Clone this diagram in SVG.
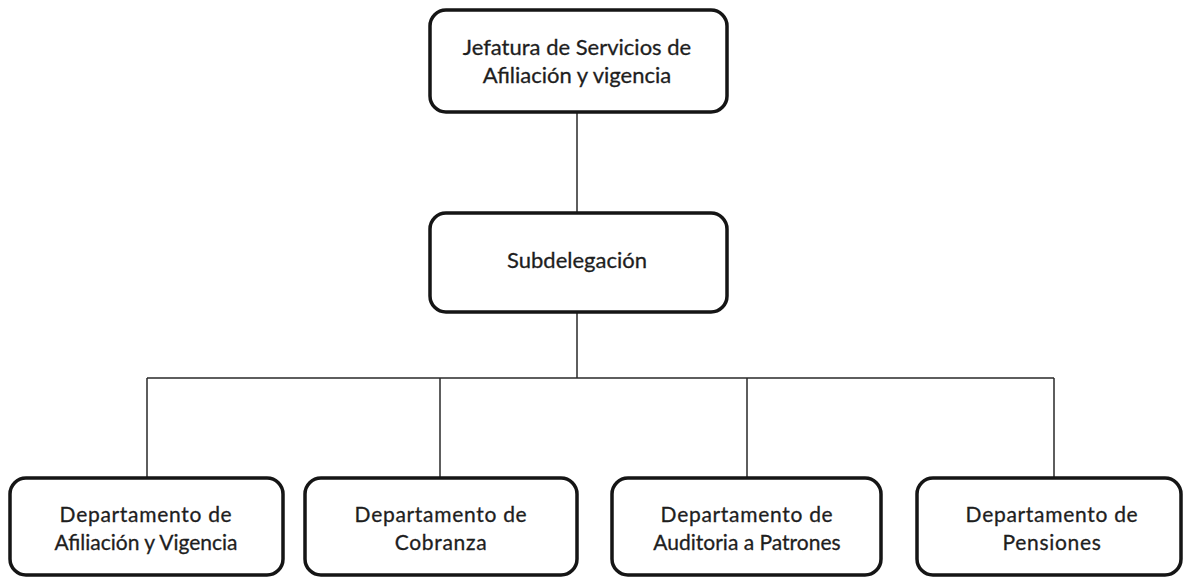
<svg xmlns="http://www.w3.org/2000/svg" width="1185" height="578" viewBox="0 0 1185 578">
<style>
.box{fill:#fff;stroke:#151515;stroke-width:3.5}
.t{font-family:Lato,"Open Sans","Liberation Sans",sans-serif;font-size:22px;fill:#1e1e1e;text-anchor:middle;stroke:#1e1e1e;stroke-width:0.3}
.s{font-size:21px}
.b{letter-spacing:0.7px}
.c{stroke:#2a2a2a;stroke-width:1.5;fill:none}
</style>
<rect width="1185" height="578" fill="#fff"/>
<g id="connectors">
<path class="c" d="M577 112V213M577 312V378M147 378H1054M147 378V478M440 378V478M747 378V478M1054 378V478"/>
</g>
<g id="n-jefatura">
<rect class="box" x="430" y="10" width="297" height="102" rx="16"/>
<text class="t" x="577" y="55">Jefatura de Servicios de</text>
<text class="t" x="577" y="83">Afiliación y vigencia</text>
</g>
<g id="n-subdelegacion">
<rect class="box" x="430" y="213" width="297" height="99" rx="16"/>
<text class="t" x="577" y="268">Subdelegación</text>
</g>
<g id="n-afiliacion">
<rect class="box" x="10" y="478" width="273" height="97" rx="16"/>
<text class="t s b" x="146" y="522">Departamento de</text>
<text class="t s" x="146" y="550">Afiliación y Vigencia</text>
</g>
<g id="n-cobranza">
<rect class="box" x="305" y="478" width="272" height="97" rx="16"/>
<text class="t s b" x="441" y="522">Departamento de</text>
<text class="t s b" x="441" y="550">Cobranza</text>
</g>
<g id="n-auditoria">
<rect class="box" x="612" y="478" width="269" height="97" rx="16"/>
<text class="t s b" x="747" y="522">Departamento de</text>
<text class="t s" x="747" y="550">Auditoria a Patrones</text>
</g>
<g id="n-pensiones">
<rect class="box" x="917" y="478" width="264" height="97" rx="16"/>
<text class="t s b" x="1052" y="522">Departamento de</text>
<text class="t s b" x="1052" y="550">Pensiones</text>
</g>
</svg>
